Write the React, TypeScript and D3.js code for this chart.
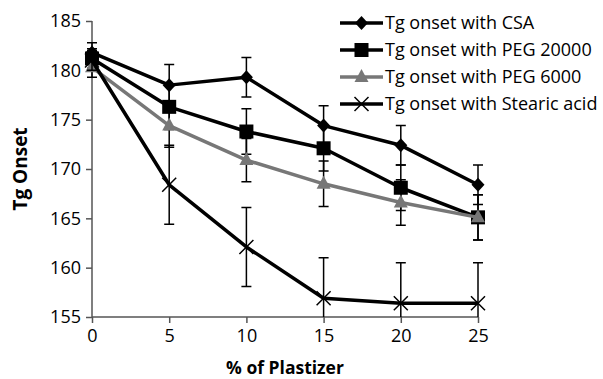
import React, { useRef, useEffect } from 'react';
import * as d3 from 'd3';

const plasticizer = [0, 5, 10, 15, 20, 25];
const xTicks = [0, 5, 10, 15, 20, 25];
const yTicks = [155, 160, 165, 170, 175, 180, 185];

const seriesNames = [
  'Tg onset with CSA',
  'Tg onset with PEG 20000',
  'Tg onset with PEG 6000',
  'Tg onset with Stearic acid',
];
const csaValues = [181.8, 178.5, 179.3, 174.4, 172.4, 168.4];
const csaErrors = [1, 2.1, 2, 2, 2, 2];
const peg20000Values = [181.2, 176.3, 173.8, 172.1, 168.1, 165.1];
const peg20000Errors = [1, 2.3, 2.3, 2.3, 2.3, 2.3];
const peg6000Values = [180.3, 174.4, 170.9, 168.5, 166.6, 165.1];
const peg6000Errors = [1, 2.2, 2.2, 2.3, 2.3, 2.3];
const stearicValues = [181.0, 168.4, 162.1, 156.9, 156.4, 156.4];
const stearicErrors = [1, 4, 4, 4.1, 4.1, 4.1];

const App = () => {
  const ref = useRef(null);

  useEffect(() => {
    const width = 603;
    const height = 379;
    const margin = { left: 92, right: 125, top: 21, bottom: 62 };
    const font = 'Open Sans, sans-serif';

    document.body.style.margin = '0';
    document.body.style.overflow = 'hidden';

    d3.select(ref.current).selectAll('*').remove();
    const svg = d3.select(ref.current)
      .append('svg')
      .attr('width', width)
      .attr('height', height)
      .style('display', 'block')
      .style('overflow', 'hidden')
      .style('background', '#fff');

    const x = d3.scaleLinear().domain([0, 25]).range([margin.left, width - margin.right]);
    const y = d3.scaleLinear().domain([155, 185]).range([height - margin.bottom, margin.top]);

    svg.append('clipPath').attr('id', 'plot-clip')
      .append('rect')
      .attr('x', 0).attr('y', y(185) - 5)
      .attr('width', width).attr('height', y(155) - y(185) + 5);

    // axes
    const yAxis = svg.append('g')
      .attr('transform', `translate(${margin.left},0)`)
      .call(d3.axisLeft(y).tickValues(yTicks).tickSize(6).tickPadding(5));
    const xAxis = svg.append('g')
      .attr('transform', `translate(0,${y(155)})`)
      .call(d3.axisBottom(x).tickValues(xTicks).tickSize(6).tickPadding(6));
    [yAxis, xAxis].forEach(a => {
      a.select('.domain').attr('stroke', '#555').attr('stroke-width', 1.5);
      a.selectAll('.tick line').attr('stroke', '#555').attr('stroke-width', 1.5);
      a.selectAll('.tick text').attr('font-family', font).attr('font-size', 18).attr('fill', '#000');
    });
    yAxis.select('.domain').attr('d', `M0,${y(185)}V${y(155)}`);
    xAxis.select('.domain').attr('d', `M${x(0)},0H${x(25)}`);

    svg.append('text')
      .attr('transform', `translate(27,${(y(155) + y(185)) / 2}) rotate(-90)`)
      .attr('text-anchor', 'middle')
      .attr('font-family', font)
      .attr('font-weight', 'bold')
      .attr('font-size', 19)
      .text('Tg Onset');
    svg.append('text')
      .attr('x', (x(0) + x(25)) / 2)
      .attr('y', 374)
      .attr('text-anchor', 'middle')
      .attr('font-family', font)
      .attr('font-weight', 'bold')
      .attr('font-size', 17.5)
      .text('% of Plastizer');

    const series = [
      { name: seriesNames[0], values: csaValues, errors: csaErrors, color: '#000', marker: 'diamond' },
      { name: seriesNames[1], values: peg20000Values, errors: peg20000Errors, color: '#000', marker: 'square' },
      { name: seriesNames[2], values: peg6000Values, errors: peg6000Errors, color: '#777', marker: 'triangle' },
      { name: seriesNames[3], values: stearicValues, errors: stearicErrors, color: '#000', marker: 'cross' },
    ];

    const line = d3.line<number>()
      .x((d, i) => x(plasticizer[i]))
      .y(d => y(d));

    const drawMarker = (g, type, cx, cy, color) => {
      if (type === 'diamond') {
        g.append('path').attr('d', `M${cx},${cy - 7}L${cx + 6.5},${cy}L${cx},${cy + 7}L${cx - 6.5},${cy}Z`).attr('fill', color);
      } else if (type === 'square') {
        g.append('rect').attr('x', cx - 7).attr('y', cy - 7).attr('width', 14).attr('height', 14).attr('fill', color);
      } else if (type === 'triangle') {
        g.append('path').attr('d', `M${cx},${cy - 8}L${cx + 7},${cy + 5}L${cx - 7},${cy + 5}Z`).attr('fill', color);
      } else {
        g.append('path').attr('d', `M${cx - 7},${cy - 7}L${cx + 7},${cy + 7}M${cx - 7},${cy + 7}L${cx + 7},${cy - 7}`)
          .attr('stroke', color).attr('stroke-width', 1.5);
      }
    };

    series.forEach(s => {
      const g = svg.append('g');
      // error bars
      const eg = g.append('g').attr('clip-path', 'url(#plot-clip)');
      s.values.forEach((v, i) => {
        const cx = x(plasticizer[i]);
        const y1 = y(v + s.errors[i]);
        const y2 = y(v - s.errors[i]);
        eg.append('path')
          .attr('d', `M${cx},${y1}V${y2}M${cx - 5},${y1}H${cx + 5}M${cx - 5},${y2}H${cx + 5}`)
          .attr('stroke', '#000')
          .attr('stroke-width', 1.5)
          .attr('fill', 'none');
      });
      g.append('path')
        .attr('d', line(s.values))
        .attr('fill', 'none')
        .attr('stroke', s.color)
        .attr('stroke-width', 3.5)
        .attr('stroke-linejoin', 'round');
      s.values.forEach((v, i) => drawMarker(g, s.marker, x(plasticizer[i]), y(v), s.color));
    });

    // legend
    const legend = svg.append('g');
    series.forEach((s, i) => {
      const ly = 23 + i * 27;
      legend.append('line')
        .attr('x1', 340).attr('x2', 383).attr('y1', ly).attr('y2', ly)
        .attr('stroke', s.color).attr('stroke-width', 3.5);
      drawMarker(legend, s.marker, 361.5, ly, s.color);
      legend.append('text')
        .attr('x', 385)
        .attr('y', ly)
        .attr('dy', '0.35em')
        .attr('font-family', font)
        .attr('font-size', 18)
        .text(s.name);
    });
  }, []);

  return <div ref={ref}></div>;
};

export default App;
